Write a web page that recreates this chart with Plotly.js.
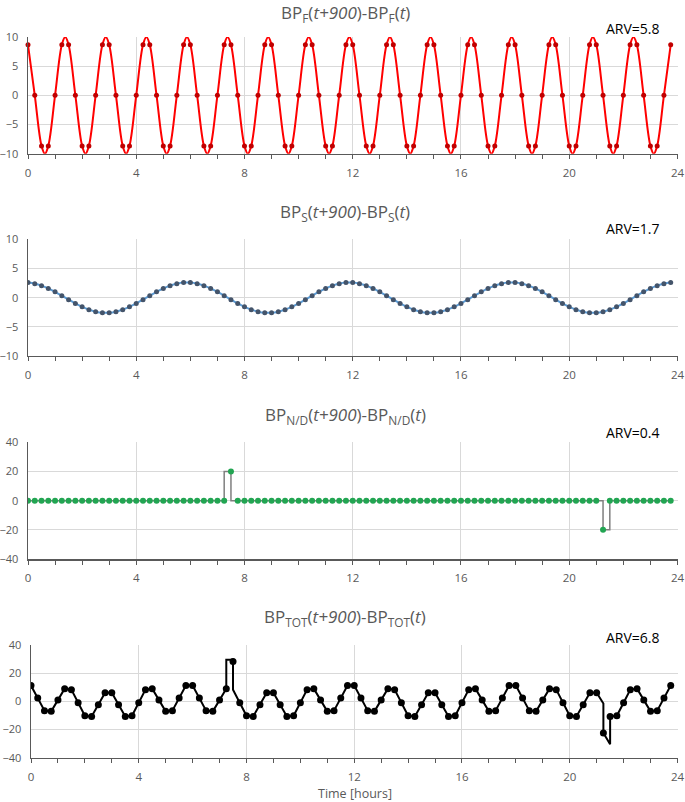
<!DOCTYPE html>
<html>
<head>
<meta charset="utf-8">
<script src="https://cdn.plot.ly/plotly-3.0.1.min.js"></script>
<style>
  body { margin: 0; background: #fff; }
  #chart { width: 685px; height: 802px; }
</style>
</head>
<body>
<div id="chart"></div>
<script>
// sample times, every 900 s (0.25 h)
var time = [
  0, 0.25, 0.5, 0.75, 1, 1.25, 1.5, 1.75, 2, 2.25, 2.5, 2.75,
  3, 3.25, 3.5, 3.75, 4, 4.25, 4.5, 4.75, 5, 5.25, 5.5, 5.75,
  6, 6.25, 6.5, 6.75, 7, 7.25, 7.5, 7.75, 8, 8.25, 8.5, 8.75,
  9, 9.25, 9.5, 9.75, 10, 10.25, 10.5, 10.75, 11, 11.25, 11.5, 11.75,
  12, 12.25, 12.5, 12.75, 13, 13.25, 13.5, 13.75, 14, 14.25, 14.5, 14.75,
  15, 15.25, 15.5, 15.75, 16, 16.25, 16.5, 16.75, 17, 17.25, 17.5, 17.75,
  18, 18.25, 18.5, 18.75, 19, 19.25, 19.5, 19.75, 20, 20.25, 20.5, 20.75,
  21, 21.25, 21.5, 21.75, 22, 22.25, 22.5, 22.75, 23, 23.25, 23.5, 23.75
];

// BP_F(t+900)-BP_F(t)
var bpF = [
  8.66, 0, -8.66, -8.66, 0, 8.66, 8.66, 0, -8.66, -8.66, 0, 8.66,
  8.66, 0, -8.66, -8.66, 0, 8.66, 8.66, 0, -8.66, -8.66, 0, 8.66,
  8.66, 0, -8.66, -8.66, 0, 8.66, 8.66, 0, -8.66, -8.66, 0, 8.66,
  8.66, 0, -8.66, -8.66, 0, 8.66, 8.66, 0, -8.66, -8.66, 0, 8.66,
  8.66, 0, -8.66, -8.66, 0, 8.66, 8.66, 0, -8.66, -8.66, 0, 8.66,
  8.66, 0, -8.66, -8.66, 0, 8.66, 8.66, 0, -8.66, -8.66, 0, 8.66,
  8.66, 0, -8.66, -8.66, 0, 8.66, 8.66, 0, -8.66, -8.66, 0, 8.66,
  8.66, 0, -8.66, -8.66, 0, 8.66, 8.66, 0, -8.66, -8.66, 0, 8.66
];
// where the red curve tops out between samples
var bpFPeakTime = [
  0.625, 1.375, 2.125, 2.875, 3.625, 4.375, 5.125, 5.875,
  6.625, 7.375, 8.125, 8.875, 9.625, 10.375, 11.125, 11.875,
  12.625, 13.375, 14.125, 14.875, 15.625, 16.375, 17.125, 17.875,
  18.625, 19.375, 20.125, 20.875, 21.625, 22.375, 23.125
];
var bpFPeakVal = [
  -10, 10, -10, 10, -10, 10, -10, 10,
  -10, 10, -10, 10, -10, 10, -10, 10,
  -10, 10, -10, 10, -10, 10, -10, 10,
  -10, 10, -10, 10, -10, 10, -10
];

// BP_S(t+900)-BP_S(t)
var bpS = [
  2.58, 2.40, 2.06, 1.58, 0.99, 0.34, -0.34, -0.99, -1.58, -2.06, -2.40, -2.58,
  -2.58, -2.40, -2.06, -1.58, -0.99, -0.34, 0.34, 0.99, 1.58, 2.06, 2.40, 2.58,
  2.58, 2.40, 2.06, 1.58, 0.99, 0.34, -0.34, -0.99, -1.58, -2.06, -2.40, -2.58,
  -2.58, -2.40, -2.06, -1.58, -0.99, -0.34, 0.34, 0.99, 1.58, 2.06, 2.40, 2.58,
  2.58, 2.40, 2.06, 1.58, 0.99, 0.34, -0.34, -0.99, -1.58, -2.06, -2.40, -2.58,
  -2.58, -2.40, -2.06, -1.58, -0.99, -0.34, 0.34, 0.99, 1.58, 2.06, 2.40, 2.58,
  2.58, 2.40, 2.06, 1.58, 0.99, 0.34, -0.34, -0.99, -1.58, -2.06, -2.40, -2.58,
  -2.58, -2.40, -2.06, -1.58, -0.99, -0.34, 0.34, 0.99, 1.58, 2.06, 2.40, 2.58
];

// BP_N/D(t+900)-BP_N/D(t)
var bpND = [
  0, 0, 0, 0, 0, 0, 0, 0, 0, 0, 0, 0,
  0, 0, 0, 0, 0, 0, 0, 0, 0, 0, 0, 0,
  0, 0, 0, 0, 0, 0, 20, 0, 0, 0, 0, 0,
  0, 0, 0, 0, 0, 0, 0, 0, 0, 0, 0, 0,
  0, 0, 0, 0, 0, 0, 0, 0, 0, 0, 0, 0,
  0, 0, 0, 0, 0, 0, 0, 0, 0, 0, 0, 0,
  0, 0, 0, 0, 0, 0, 0, 0, 0, 0, 0, 0,
  0, -20, 0, 0, 0, 0, 0, 0, 0, 0, 0, 0
];
// step corners of the grey line (inserted after the sample at ndEdgeAfter)
var ndEdgeAfter = [7.25, 7.5, 21, 21.25];
var ndEdgeTime = [7.25, 7.5, 21.25, 21.5];
var ndEdgeVal = [20, 0, 0, -20];

// BP_TOT(t+900)-BP_TOT(t)
var bpTot = [
  11.24, 2.40, -6.60, -7.08, 0.99, 9.00, 8.32, -0.99, -10.24, -10.72, -2.40, 6.08,
  6.08, -2.40, -10.72, -10.24, -0.99, 8.32, 9.00, 0.99, -7.08, -6.60, 2.40, 11.24,
  11.24, 2.40, -6.60, -7.08, 0.99, 9.00, 28.32, -0.99, -10.24, -10.72, -2.40, 6.08,
  6.08, -2.40, -10.72, -10.24, -0.99, 8.32, 9.00, 0.99, -7.08, -6.60, 2.40, 11.24,
  11.24, 2.40, -6.60, -7.08, 0.99, 9.00, 8.32, -0.99, -10.24, -10.72, -2.40, 6.08,
  6.08, -2.40, -10.72, -10.24, -0.99, 8.32, 9.00, 0.99, -7.08, -6.60, 2.40, 11.24,
  11.24, 2.40, -6.60, -7.08, 0.99, 9.00, 8.32, -0.99, -10.24, -10.72, -2.40, 6.08,
  6.08, -22.40, -10.72, -10.24, -0.99, 8.32, 9.00, 0.99, -7.08, -6.60, 2.40, 11.24
];
var totEdgeAfter = [7.25, 7.25, 7.5, 21, 21.25];
var totEdgeTime = [7.25, 7.5, 7.5, 21.25, 21.5];
var totEdgeVal = [29.5, 29.5, 8.3, -1.5, -30.5];

var arvText = ["ARV=5.8", "ARV=1.7", "ARV=0.4", "ARV=6.8"];

// put extra line vertices right after the given sample
function withEdges(t, v, after, et, ev) {
  var xs = [], ys = [];
  for (var i = 0; i < t.length; i++) {
    xs.push(t[i]); ys.push(v[i]);
    for (var j = 0; j < after.length; j++) {
      if (after[j] === t[i]) { xs.push(et[j]); ys.push(ev[j]); }
    }
  }
  return {x: xs, y: ys};
}
// merge samples and peak points by time
function merged(t, v, pt, pv) {
  var pts = [];
  t.forEach(function (d, i) { pts.push([d, v[i]]); });
  pt.forEach(function (d, i) { pts.push([d, pv[i]]); });
  pts.sort(function (a, b) { return a[0] - b[0]; });
  return {x: pts.map(a => a[0]), y: pts.map(a => a[1])};
}

var fLine = merged(time, bpF, bpFPeakTime, bpFPeakVal);
var ndLine = withEdges(time, bpND, ndEdgeAfter, ndEdgeTime, ndEdgeVal);
var totLine = withEdges(time, bpTot, totEdgeAfter, totEdgeTime, totEdgeVal);

var traces = [
  {x: fLine.x, y: fLine.y, xaxis: 'x', yaxis: 'y', mode: 'lines',
   line: {color: '#ff0000', width: 2, shape: 'spline', smoothing: 1}},
  {x: time, y: bpF, xaxis: 'x', yaxis: 'y', mode: 'markers',
   marker: {color: '#c00000', size: 5}, cliponaxis: false},

  {x: time, y: bpS, xaxis: 'x2', yaxis: 'y2', mode: 'lines',
   line: {color: '#5b9bd5', width: 2, shape: 'spline'}},
  {x: time, y: bpS, xaxis: 'x2', yaxis: 'y2', mode: 'markers',
   marker: {color: '#44546a', size: 5}},

  {x: ndLine.x, y: ndLine.y, xaxis: 'x3', yaxis: 'y3', mode: 'lines',
   line: {color: '#7f7f7f', width: 1.5}},
  {x: time, y: bpND, xaxis: 'x3', yaxis: 'y3', mode: 'markers',
   marker: {color: '#22a552', size: 6}},

  {x: totLine.x, y: totLine.y, xaxis: 'x4', yaxis: 'y4', mode: 'lines',
   line: {color: '#000000', width: 2}},
  {x: time, y: bpTot, xaxis: 'x4', yaxis: 'y4', mode: 'markers',
   marker: {color: '#000000', size: 7}}
];

var axisColor = '#595959';
var gridColor = '#d9d9d9';

function xAx(dom, anchor) {
  return {
    domain: dom, anchor: anchor, range: [0, 24.02],
    tick0: 0, dtick: 4, showgrid: true, gridcolor: gridColor, gridwidth: 1,
    zeroline: false, showline: true, linecolor: axisColor, linewidth: 1.5,
    ticks: 'outside', ticklen: 4, tickcolor: axisColor, tickwidth: 1,
    minor: {dtick: 1, ticks: 'outside', ticklen: 4, tickcolor: axisColor, showgrid: false},
    tickfont: {size: 11.5, color: axisColor}, ticklabelstandoff: 4
  };
}
function yAx(dom, anchor, lim, step) {
  return {
    domain: dom, anchor: anchor, range: [-lim, lim], tick0: -lim, dtick: step,
    showgrid: true, gridcolor: gridColor, gridwidth: 1,
    zeroline: false, showline: true, linecolor: axisColor, linewidth: 1.5,
    ticks: '', tickfont: {size: 11, color: axisColor}, ticklabelstandoff: 6
  };
}

var xd = [28 / 685, 678 / 685];
var titleFont = {family: 'Open Sans', size: 17, color: '#595959'};
var arvFont = {family: 'Open Sans', size: 14, color: '#000000'};

function title(txt, yPix) {
  return {text: txt, xref: 'paper', yref: 'paper', x: 345 / 685, y: 1 - yPix / 802,
          xanchor: 'center', yanchor: 'middle', showarrow: false, font: titleFont};
}
function arv(i, yPix) {
  return {text: arvText[i], xref: 'paper', yref: 'paper', x: 662 / 685, y: 1 - yPix / 802,
          xanchor: 'right', yanchor: 'middle', showarrow: false, font: arvFont};
}

var layout = {
  width: 685, height: 802,
  margin: {l: 0, r: 0, t: 0, b: 0},
  paper_bgcolor: '#ffffff', plot_bgcolor: '#ffffff',
  showlegend: false,
  font: {family: 'Open Sans', color: axisColor, size: 11},
  xaxis: xAx(xd, 'y'),
  yaxis: yAx([0.80835, 0.95387], 'x', 10, 5),
  xaxis2: xAx(xd, 'y2'),
  yaxis2: yAx([0.55611, 0.70162], 'x2', 10, 5),
  xaxis3: xAx(xd, 'y3'),
  yaxis3: yAx([0.30299, 0.44850], 'x3', 40, 20),
  xaxis4: xAx([31 / 685, 678 / 685], 'y4'),
  yaxis4: yAx([0.05524, 0.19576], 'x4', 40, 20),
  annotations: [
    title('BP<sub>F</sub>(<i>t+900</i>)-BP<sub>F</sub>(<i>t</i>)', 13.5),
    title('BP<sub>S</sub>(<i>t+900</i>)-BP<sub>S</sub>(<i>t</i>)', 213),
    title('BP<sub>N/D</sub>(<i>t+900</i>)-BP<sub>N/D</sub>(<i>t</i>)', 415),
    title('BP<sub>TOT</sub>(<i>t+900</i>)-BP<sub>TOT</sub>(<i>t</i>)', 617),
    arv(0, 28), arv(1, 228), arv(2, 433), arv(3, 637),
    {text: 'Time [hours]', xref: 'paper', yref: 'paper', x: 355 / 685, y: 1 - 793 / 802,
     xanchor: 'center', yanchor: 'middle', showarrow: false,
     font: {family: 'Open Sans', size: 12.5, color: axisColor}}
  ]
};

Plotly.newPlot('chart', traces, layout, {displayModeBar: false, staticPlot: true});
</script>
</body>
</html>
